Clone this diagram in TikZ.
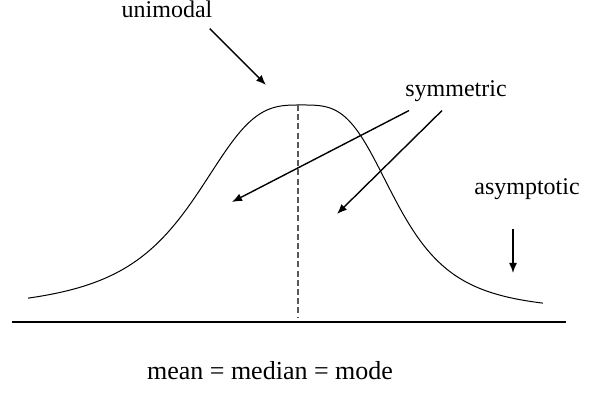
\documentclass[tikz,border=0pt]{standalone}
\usepackage{fontspec}
\setmainfont{Liberation Serif}
\usepackage{tikz}
\usetikzlibrary{arrows.meta,calc,positioning}

\tikzset{
  lbl/.style={inner sep=0pt,anchor=base,font=\fontsize{12}{14}\selectfont},
  pointer/.style={line width=0.7pt,-{Latex[length=5pt,width=4pt]}},
}

\begin{document}
\begin{tikzpicture}[x=0.5pt,y=-0.5pt]
\useasboundingbox (0,0) rectangle (600,400);
% bell curve and axis
\draw[line width=0.5pt] plot[domain=28:298,samples=90,smooth] (\x,{312-207/(1+((abs(\x-300)+0.01)/113)^3)})
  -- plot[domain=298:543,samples=90,smooth] (\x,{312-207/(1+((abs(\x-300)+0.01)/100)^3.5)});
\draw[line width=0.7pt] (12,322) coordinate(axL) -- (566,322) coordinate(axR);
\draw[line width=0.6pt,gray!70!black,dash pattern=on 3pt off 1.6pt] (298,105) coordinate(peak) -- (298,318) coordinate(foot);
% labels
\node[lbl] (lblUni) at (167,18) {unimodal};
\node[lbl] (lblSym) at (456,97) {symmetric};
\node[lbl] (lblAsym) at (527,195) {asymptotic};
\node[lbl,font=\fontsize{13}{15}\selectfont] (lblMean) at (270,380) {mean = median = mode};
% arrow tips
\coordinate (uniTip) at (266,85);
\coordinate (symTipL) at (232,202);
\coordinate (symTipR) at (337,214);
\coordinate (asymTip) at (513,273);
\draw[pointer] ($(lblUni.south east)+(-3,10)$) -- (uniTip);
\draw[pointer] ($(lblSym.south west)+(4,8)$) -- (symTipL);
\draw[pointer] ($(lblSym.south)+(-14,8)$) -- (symTipR);
\draw[pointer] ($(lblAsym.south)+(-14,28)$) -- (asymTip);
\end{tikzpicture}
\end{document}
